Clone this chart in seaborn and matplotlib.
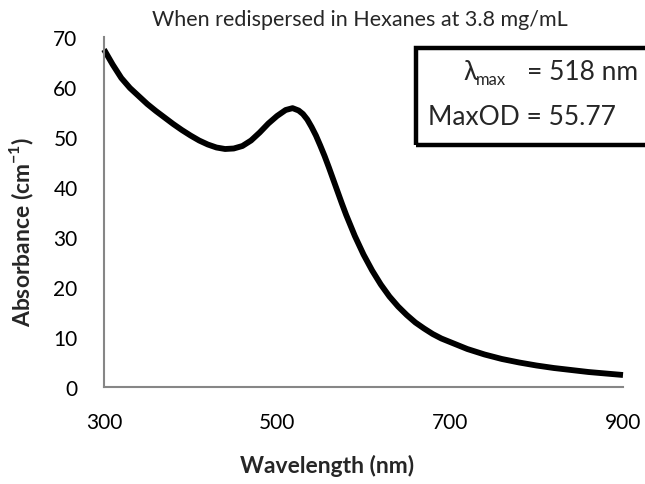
import numpy as np
import pandas as pd
import matplotlib
matplotlib.use("Agg")
import matplotlib.pyplot as plt
import seaborn as sns
from matplotlib.patches import Rectangle

wavelength = [300, 310, 320, 330, 340, 350, 360, 370, 380, 390, 400, 410, 420,
              430, 440, 450, 460, 470, 480, 490, 500, 510, 518, 525, 530, 535,
              540, 545, 550, 555, 560, 565, 570, 575, 580, 590, 600, 610, 620,
              630, 640, 650, 660, 670, 680, 690, 700, 720, 740, 760, 780, 800,
              820, 840, 860, 880, 900]
absorbance = [67.5, 64.5, 61.8, 59.8, 58.2, 56.6, 55.2, 53.9, 52.6, 51.4, 50.3,
              49.3, 48.5, 47.9, 47.6, 47.7, 48.2, 49.3, 50.9, 52.7, 54.2, 55.4,
              55.77, 55.3, 54.6, 53.5, 52.0, 50.3, 48.3, 46.2, 43.9, 41.5, 39.1,
              36.7, 34.4, 30.2, 26.5, 23.3, 20.5, 18.1, 16.1, 14.4, 12.9, 11.7,
              10.6, 9.7, 9.0, 7.6, 6.5, 5.6, 4.9, 4.3, 3.8, 3.4, 3.0, 2.7, 2.4]
x_labels = [300, 500, 700, 900]
y_ticks = [0, 10, 20, 30, 40, 50, 60, 70]
title = "When redispersed in Hexanes at 3.8 mg/mL"
lam_max = "518 nm"
max_od = "55.77"

sns.set_style("white")
plt.rcParams['font.family'] = ['Lato', 'DejaVu Sans']
plt.rcParams['mathtext.fontset'] = 'custom'
plt.rcParams['mathtext.rm'] = 'Lato'
plt.rcParams['mathtext.bf'] = 'Lato:bold'

df = pd.DataFrame({"Wavelength": wavelength, "Absorbance": absorbance})

fig = plt.figure(figsize=(6.45, 4.85), dpi=100)
ax = fig.add_axes([104/645, 1-388/485, (623-104)/645, (388-38)/485])
sns.lineplot(data=df, x="Wavelength", y="Absorbance", ax=ax, color="black",
             linewidth=4.2, clip_on=False, solid_joinstyle="round",
             solid_capstyle="butt")
ax.set_xlim(300, 900)
ax.set_ylim(0, 70)

gray = "#868686"
for s in ["top", "right"]:
    ax.spines[s].set_visible(False)
for s in ["left", "bottom"]:
    ax.spines[s].set_color(gray)
    ax.spines[s].set_linewidth(1.5)

ax.set_xticks(np.arange(300, 901, 40), minor=True)
ax.set_xticks(x_labels)
ax.set_xticklabels([str(v) for v in x_labels])
ax.set_yticks(y_ticks)
ax.tick_params(axis="both", which="both", direction="out", color=gray, width=1.5,
               length=7, labelsize=15, labelcolor="black")
ax.tick_params(axis="x", pad=11)
ax.tick_params(axis="y", pad=12)

ax.set_xlabel("")
ax.set_ylabel("")
fig.text(327/645, 1-466/485, "Wavelength (nm)", fontsize=16.5, fontweight="bold",
         ha="center", va="center")
fig.text(22/645, 1-232/485, r"Absorbance (cm$^{\mathbf{-1}}$)", fontsize=16.5,
         fontweight="bold", ha="center", va="center", rotation=90)

fig.text(360/645, 1-20/485, title, ha="center", va="center", fontsize=15.5)

rect = Rectangle((416/645, 1-146/485), 1.0, (146-49)/485, transform=fig.transFigure,
                 fill=False, edgecolor="black", linewidth=3.2, clip_on=False)
fig.add_artist(rect)
fig.text(463/645, 1-80/485, "λ", fontsize=19, ha="left", va="baseline")
fig.text(476/645, 1-85/485, "max", fontsize=12, ha="left", va="baseline")
fig.text(638/645, 1-80/485, "= " + lam_max, fontsize=19, ha="right", va="baseline")
fig.text(428/645, 1-125/485, "MaxOD = " + max_od, fontsize=19, ha="left", va="baseline")

fig.savefig("out.png", dpi=100)
